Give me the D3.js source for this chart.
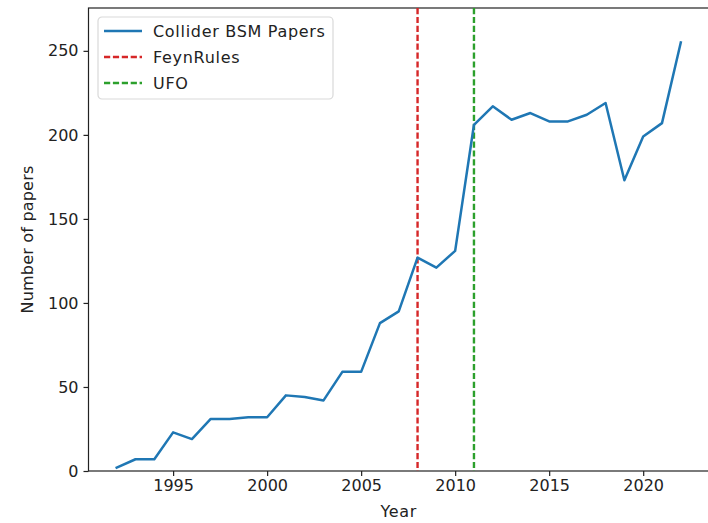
<!DOCTYPE html>
<html>
<head>
<meta charset="utf-8">
<script src="https://cdn.jsdelivr.net/npm/d3@7"></script>
<style>
  html, body { margin: 0; padding: 0; background: #fff; }
  svg { display: block; }
  text { font-family: "DejaVu Sans", sans-serif; fill: #222; }
</style>
</head>
<body>
<div id="chart"></div>
<script>
// Yearly count of collider BSM papers
const years = [1992, 1993, 1994, 1995, 1996, 1997, 1998, 1999, 2000, 2001,
               2002, 2003, 2004, 2005, 2006, 2007, 2008, 2009, 2010, 2011,
               2012, 2013, 2014, 2015, 2016, 2017, 2018, 2019, 2020, 2021, 2022];
const papers = [2, 7, 7, 23, 19, 31, 31, 32, 32, 45,
                44, 42, 59, 59, 88, 95, 127, 121, 131, 206,
                217, 209, 213, 208, 208, 212, 219, 173, 199, 207, 255];

// Tool release years marked with vertical lines
const markers = [
  { name: "FeynRules", year: 2008, color: "#d62728" },
  { name: "UFO", year: 2011, color: "#2ca02c" }
];
const seriesName = "Collider BSM Papers";
const lineColor = "#1f77b4";

const xTicks = [1995, 2000, 2005, 2010, 2015, 2020];
const yTicks = [0, 50, 100, 150, 200, 250];

const W = 708, H = 523;
const margin = { left: 88.5, top: 8, right: -1, bottom: 52 };
const innerW = W - margin.left - margin.right;
const innerH = H - margin.top - margin.bottom;

const svg = d3.select("#chart").append("svg")
  .attr("width", W).attr("height", H);

const g = svg.append("g").attr("transform", `translate(${margin.left},${margin.top})`);

const x = d3.scaleLinear().domain([1990.5, 2023.5]).range([0, innerW]);
const y = d3.scaleLinear().domain([0, 275.5]).range([innerH, 0]);

// Axes
const fontSize = 16;
const xAxis = g.append("g").attr("transform", `translate(0,${innerH})`)
  .call(d3.axisBottom(x).tickValues(xTicks).tickFormat(d3.format("d")).tickSize(5).tickPadding(4));
const yAxis = g.append("g")
  .call(d3.axisLeft(y).tickValues(yTicks).tickSize(5).tickPadding(5));

[xAxis, yAxis].forEach(a => {
  a.select(".domain").remove();
  a.selectAll(".tick line").attr("stroke", "#222").attr("stroke-width", 1.2);
  a.selectAll(".tick text").attr("font-size", fontSize).attr("fill", "#222")
    .style("font-family", "DejaVu Sans, sans-serif");
});

// Spines
g.append("rect").attr("x", 0).attr("y", 0).attr("width", innerW).attr("height", innerH)
  .attr("fill", "none").attr("stroke", "#222").attr("stroke-width", 1.2);

// Marker lines
g.selectAll(".marker").data(markers).enter().append("line")
  .attr("class", "marker")
  .attr("x1", d => x(d.year)).attr("x2", d => x(d.year))
  .attr("y1", 0).attr("y2", innerH)
  .attr("stroke", d => d.color).attr("stroke-width", 2.4)
  .attr("stroke-dasharray", "6.2,2.7");

// Series line
const line = d3.line().x((d, i) => x(years[i])).y(d => y(d));
g.append("path").datum(papers)
  .attr("d", line)
  .attr("fill", "none").attr("stroke", lineColor).attr("stroke-width", 2.5)
  .attr("stroke-linejoin", "round").attr("stroke-linecap", "square");

// Axis titles
svg.append("text").attr("x", margin.left + x(2007)).attr("y", 517)
  .attr("text-anchor", "middle").attr("font-size", fontSize)
  .attr("letter-spacing", 0.6).text("Year");
svg.append("text")
  .attr("transform", `translate(33,${margin.top + innerH / 2}) rotate(-90)`)
  .attr("text-anchor", "middle").attr("font-size", fontSize)
  .attr("letter-spacing", 0.2).text("Number of papers");

// Legend
const legend = svg.append("g").attr("transform", "translate(98,17)");
legend.append("rect").attr("width", 235).attr("height", 82).attr("rx", 4)
  .attr("fill", "#fff").attr("fill-opacity", 0.8)
  .attr("stroke", "#d9d9d9").attr("stroke-width", 1.2);
const entries = [{ name: seriesName, color: lineColor, dash: null }]
  .concat(markers.map(m => ({ name: m.name, color: m.color, dash: "6.2,2.7" })));
entries.forEach((e, i) => {
  const cy = 14 + i * 26;
  legend.append("line").attr("x1", 6).attr("x2", 44).attr("y1", cy).attr("y2", cy)
    .attr("stroke", e.color).attr("stroke-width", 2.4)
    .attr("stroke-dasharray", e.dash);
  legend.append("text").attr("x", 55).attr("y", cy).attr("dy", "0.36em")
    .attr("font-size", fontSize).attr("letter-spacing", 0.7).text(e.name);
});
</script>
</body>
</html>
